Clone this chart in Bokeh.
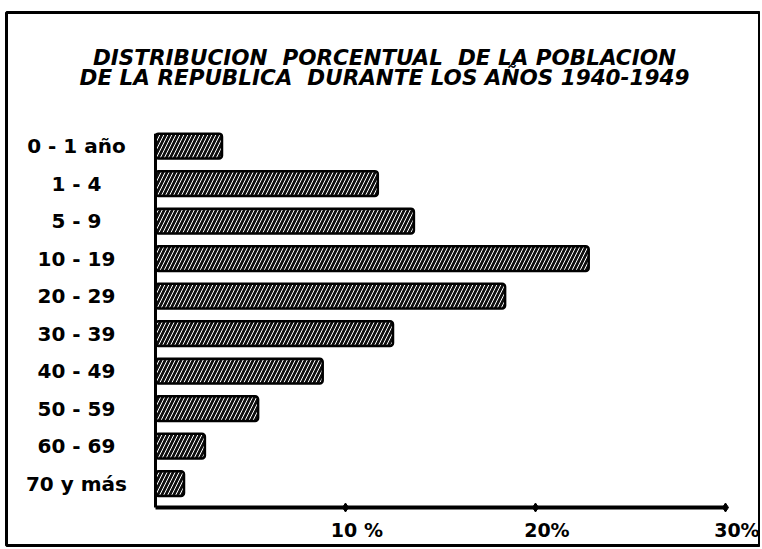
from bokeh.plotting import figure
from bokeh.models import Range1d, Label, ColumnDataSource
from bokeh.core.properties import value
from bokeh.embed import file_html
from bokeh.resources import INLINE

# ---- data ----
categories = ["0 - 1 año", "1 - 4", "5 - 9", "10 - 19", "20 - 29",
              "30 - 39", "40 - 49", "50 - 59", "60 - 69", "70 y más"]
percent = [3.5, 11.7, 13.6, 22.8, 18.4, 12.5, 8.8, 5.4, 2.6, 1.5]
tick_values = [10, 20, 30]
tick_labels = ["10 %", "20%", "30%"]
title_lines = ["DISTRIBUCION\u00a0 PORCENTUAL\u00a0 DE LA POBLACION",
               "DE LA REPUBLICA\u00a0 DURANTE LOS AÑOS 1940-1949"]

W, H = 760, 547
FONT = "DejaVu Sans"

pos = list(range(len(categories)))

p = figure(width=W, height=H, output_backend="svg", toolbar_location=None,
           x_range=Range1d(-7.842, 31.789), y_range=Range1d(10.653, -3.56),
           x_axis_location=None, y_axis_location=None,
           min_border_left=6, min_border_right=1, min_border_top=12, min_border_bottom=2,
           background_fill_color="white", border_fill_color="white")
p.xgrid.visible = False
p.ygrid.visible = False
p.outline_line_color = "black"
p.outline_line_width = 3

src = ColumnDataSource(dict(y=pos, right=percent, label=categories))

# bars
p.hbar(y="y", left=0, right="right", height=0.66, source=src,
       fill_color="#101010", line_color="black", line_width=2.5, border_radius=3,
       hatch_pattern="/", hatch_color="white", hatch_weight=1, hatch_scale=8)

# category labels
p.text(x=-4.16, y="y", text="label", source=src,
       text_font=value(FONT), text_font_style="bold", text_font_size="20px",
       text_align="center", text_baseline="middle", text_color="black")

# axes drawn as lines
axis_y = 9.64
p.segment(x0=[0], y0=[-0.33], x1=[0], y1=[axis_y], line_color="black", line_width=3)
p.segment(x0=[0], y0=[axis_y], x1=[max(tick_values)], y1=[axis_y],
          line_color="black", line_width=4)
p.scatter(x=tick_values, y=[axis_y] * len(tick_values), marker="diamond",
          size=9, fill_color="black", line_color="black")
p.text(x=[v + 0.6 for v in tick_values], y=[10.25] * len(tick_values), text=tick_labels,
       text_font=value(FONT), text_font_style="bold", text_font_size="19px",
       text_align="center", text_baseline="middle", text_color="black")

# title
title_y = [-2.35, -1.82]
for line, ty in zip(title_lines, title_y):
    p.add_layout(Label(x=12.05, y=ty, text=line, text_font=FONT,
                       text_font_style="bold italic", text_font_size="21.5px",
                       text_align="center", text_baseline="middle",
                       text_color="black"))

open("out.html", "w").write(file_html(p, INLINE))
